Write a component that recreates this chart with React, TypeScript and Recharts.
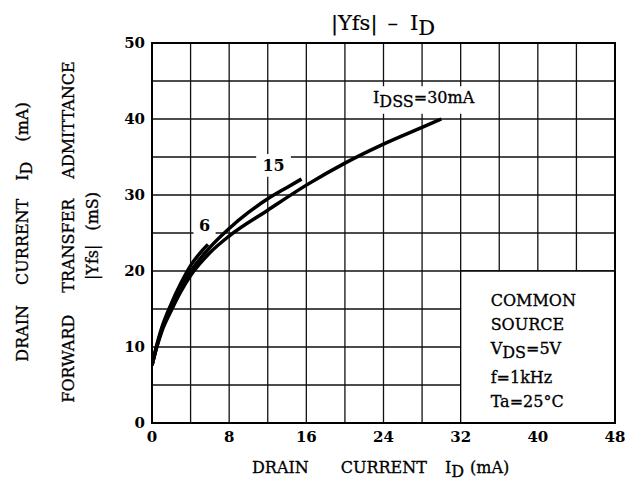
import React from "react";
import {
  LineChart,
  Line,
  XAxis,
  YAxis,
  CartesianGrid,
  ReferenceArea,
} from "recharts";

const FONT = "'DejaVu Serif', serif";

// grid every 4 mA / 5 mS, labels every 8 mA / 10 mS
const xTicks = [0, 4, 8, 12, 16, 20, 24, 28, 32, 36, 40, 44, 48];
const yTicks = [0, 5, 10, 15, 20, 25, 30, 35, 40, 45, 50];

// [I_D (mA), |Yfs| (mS)]
const idss30: [number, number][] = [
  [0, 7.6], [0.5, 10], [1, 12], [2, 14.8], [3, 17.3], [4, 19.4], [6, 22.4],
  [8, 24.6], [12, 28], [16, 31.3], [20, 34.2], [24, 36.7], [28, 38.9], [30, 40],
];
const idss15: [number, number][] = [
  [0, 7.6], [0.5, 10.1], [1, 12.2], [2, 15.1], [3, 17.7], [4, 19.9], [6, 23.1],
  [8, 25.6], [10, 27.7], [12, 29.5], [14, 31], [15.5, 32.1],
];
const idss6: [number, number][] = [
  [0, 7.6], [0.5, 10.3], [1, 12.5], [2, 15.7], [3, 18.4], [4, 20.7],
  [5, 22.4], [5.8, 23.5],
];

const toPoints = (pts: [number, number][]) => pts.map(([x, y]) => ({ x, y }));

const centerText = (text: string) => (props: any) => {
  const { x, y, width, height } = props.viewBox;
  return (
    <text
      x={x + width / 2}
      y={y + height / 2 + 6}
      textAnchor="middle"
      fontFamily={FONT}
      fontSize={16}
      fontWeight="bold"
      fill="#000"
    >
      {text}
    </text>
  );
};

const idssLabel = (props: any) => {
  const { x, y, height } = props.viewBox;
  return (
    <text x={x + 3} y={y + height / 2 + 3} fontFamily={FONT} fontSize={16} fill="#000" stroke="#000" strokeWidth={0.3}>
      I<tspan dy={4}>DSS</tspan>
      <tspan dy={-4}>=30mA</tspan>
    </text>
  );
};

const conditionsLabel = (props: any) => {
  const { x, y } = props.viewBox;
  const left = x + 30;
  return (
    <g fontFamily={FONT} fontSize={16} fill="#000" stroke="#000" strokeWidth={0.3}>
      <text x={left} y={y + 35}>COMMON</text>
      <text x={left} y={y + 59}>SOURCE</text>
      <text x={left} y={y + 83}>
        V<tspan dy={4}>DS</tspan>
        <tspan dy={-4}>=5V</tspan>
      </text>
      <text x={left} y={y + 112}>f=1kHz</text>
      <text x={left} y={y + 136}>Ta=25°C</text>
    </g>
  );
};

const xTitle = () => (
  <text x={252} y={473} fontFamily={FONT} fontSize={16} fill="#000" stroke="#000" strokeWidth={0.3}>
    DRAIN
    <tspan dx={32}>CURRENT</tspan>
    <tspan dx={18}>I</tspan>
    <tspan dy={4}>D</tspan>
    <tspan dx={6} dy={-4}>(mA)</tspan>
  </text>
);

const yTitles = () => (
  <g fontFamily={FONT} fontSize={16} fill="#000" stroke="#000" strokeWidth={0.3}>
    <text x={28} y={232} textAnchor="middle" transform="rotate(-90 28 232)">
      DRAIN
      <tspan dx={20}>CURRENT</tspan>
      <tspan dx={18}>I</tspan>
      <tspan dy={4}>D</tspan>
      <tspan dx={20} dy={-4}>(mA)</tspan>
    </text>
    <text x={74} y={232} textAnchor="middle" transform="rotate(-90 74 232)">
      FORWARD
      <tspan dx={22}>TRANSFER</tspan>
      <tspan dx={20}>ADMITTANCE</tspan>
    </text>
    <text x={98} y={236} textAnchor="middle" transform="rotate(-90 98 236)">
      |Yfs|
      <tspan dx={14}>(mS)</tspan>
    </text>
  </g>
);

const App: React.FC = () => {
  return (
    <div style={{ position: "absolute", left: 0, top: 0, width: 628, height: 486, background: "#fff" }}>
      <LineChart
        width={628}
        height={486}
        margin={{ top: 43, right: 13, left: 92, bottom: 33 }}
      >
        <CartesianGrid stroke="#111" strokeWidth={1.3} />

        <XAxis
          type="number"
          dataKey="x"
          domain={[0, 48]}
          ticks={xTicks}
          tickFormatter={(v) => (v % 8 === 0 ? String(v) : "")}
          tickLine={false}
          tickMargin={2}
          height={30}
          axisLine={{ stroke: "#000", strokeWidth: 2 }}
          tick={{ fill: "#000", fontSize: 15, fontWeight: "bold", fontFamily: FONT }}
          label={xTitle}
          allowDataOverflow
        />
        <YAxis
          type="number"
          domain={[0, 50]}
          ticks={yTicks}
          tickFormatter={(v) => (v % 10 === 0 ? String(v) : "")}
          tickLine={false}
          tickMargin={1}
          width={60}
          axisLine={{ stroke: "#000", strokeWidth: 2 }}
          tick={{ fill: "#000", fontSize: 15, fontWeight: "bold", fontFamily: FONT }}
          label={yTitles}
          allowDataOverflow
        />

        {/* white boxes behind the annotations */}
        <ReferenceArea x1={32} x2={48} y1={0} y2={20} fill="#fff" fillOpacity={1} stroke="#000" strokeWidth={1.3} label={conditionsLabel} />
        <ReferenceArea x1={10.8} x2={14.4} y1={32.4} y2={35.4} fill="#fff" fillOpacity={1} stroke="none" label={centerText("15")} />
        <ReferenceArea x1={4.3} x2={6.6} y1={24.6} y2={27.4} fill="#fff" fillOpacity={1} stroke="none" label={centerText("6")} />
        <ReferenceArea x1={22.6} x2={34} y1={40.7} y2={44.3} fill="#fff" fillOpacity={1} stroke="none" label={idssLabel} />

        <Line data={toPoints(idss30)} dataKey="y" type="monotone" stroke="#000" strokeWidth={3.5} dot={false} isAnimationActive={false} />
        <Line data={toPoints(idss15)} dataKey="y" type="monotone" stroke="#000" strokeWidth={3.5} dot={false} isAnimationActive={false} />
        <Line data={toPoints(idss6)} dataKey="y" type="monotone" stroke="#000" strokeWidth={3.5} dot={false} isAnimationActive={false} />

        <ReferenceArea x1={0} x2={48} y1={0} y2={50} fill="none" stroke="#000" strokeWidth={2} />

        <text x={383} y={30} textAnchor="middle" fontFamily={FONT} fontSize={21} fill="#000" stroke="#000" strokeWidth={0.2}>
          |Yfs|
          <tspan dx={10}>–</tspan>
          <tspan dx={12}>I</tspan>
          <tspan dy={5}>D</tspan>
        </text>
      </LineChart>
    </div>
  );
};

export default App;
